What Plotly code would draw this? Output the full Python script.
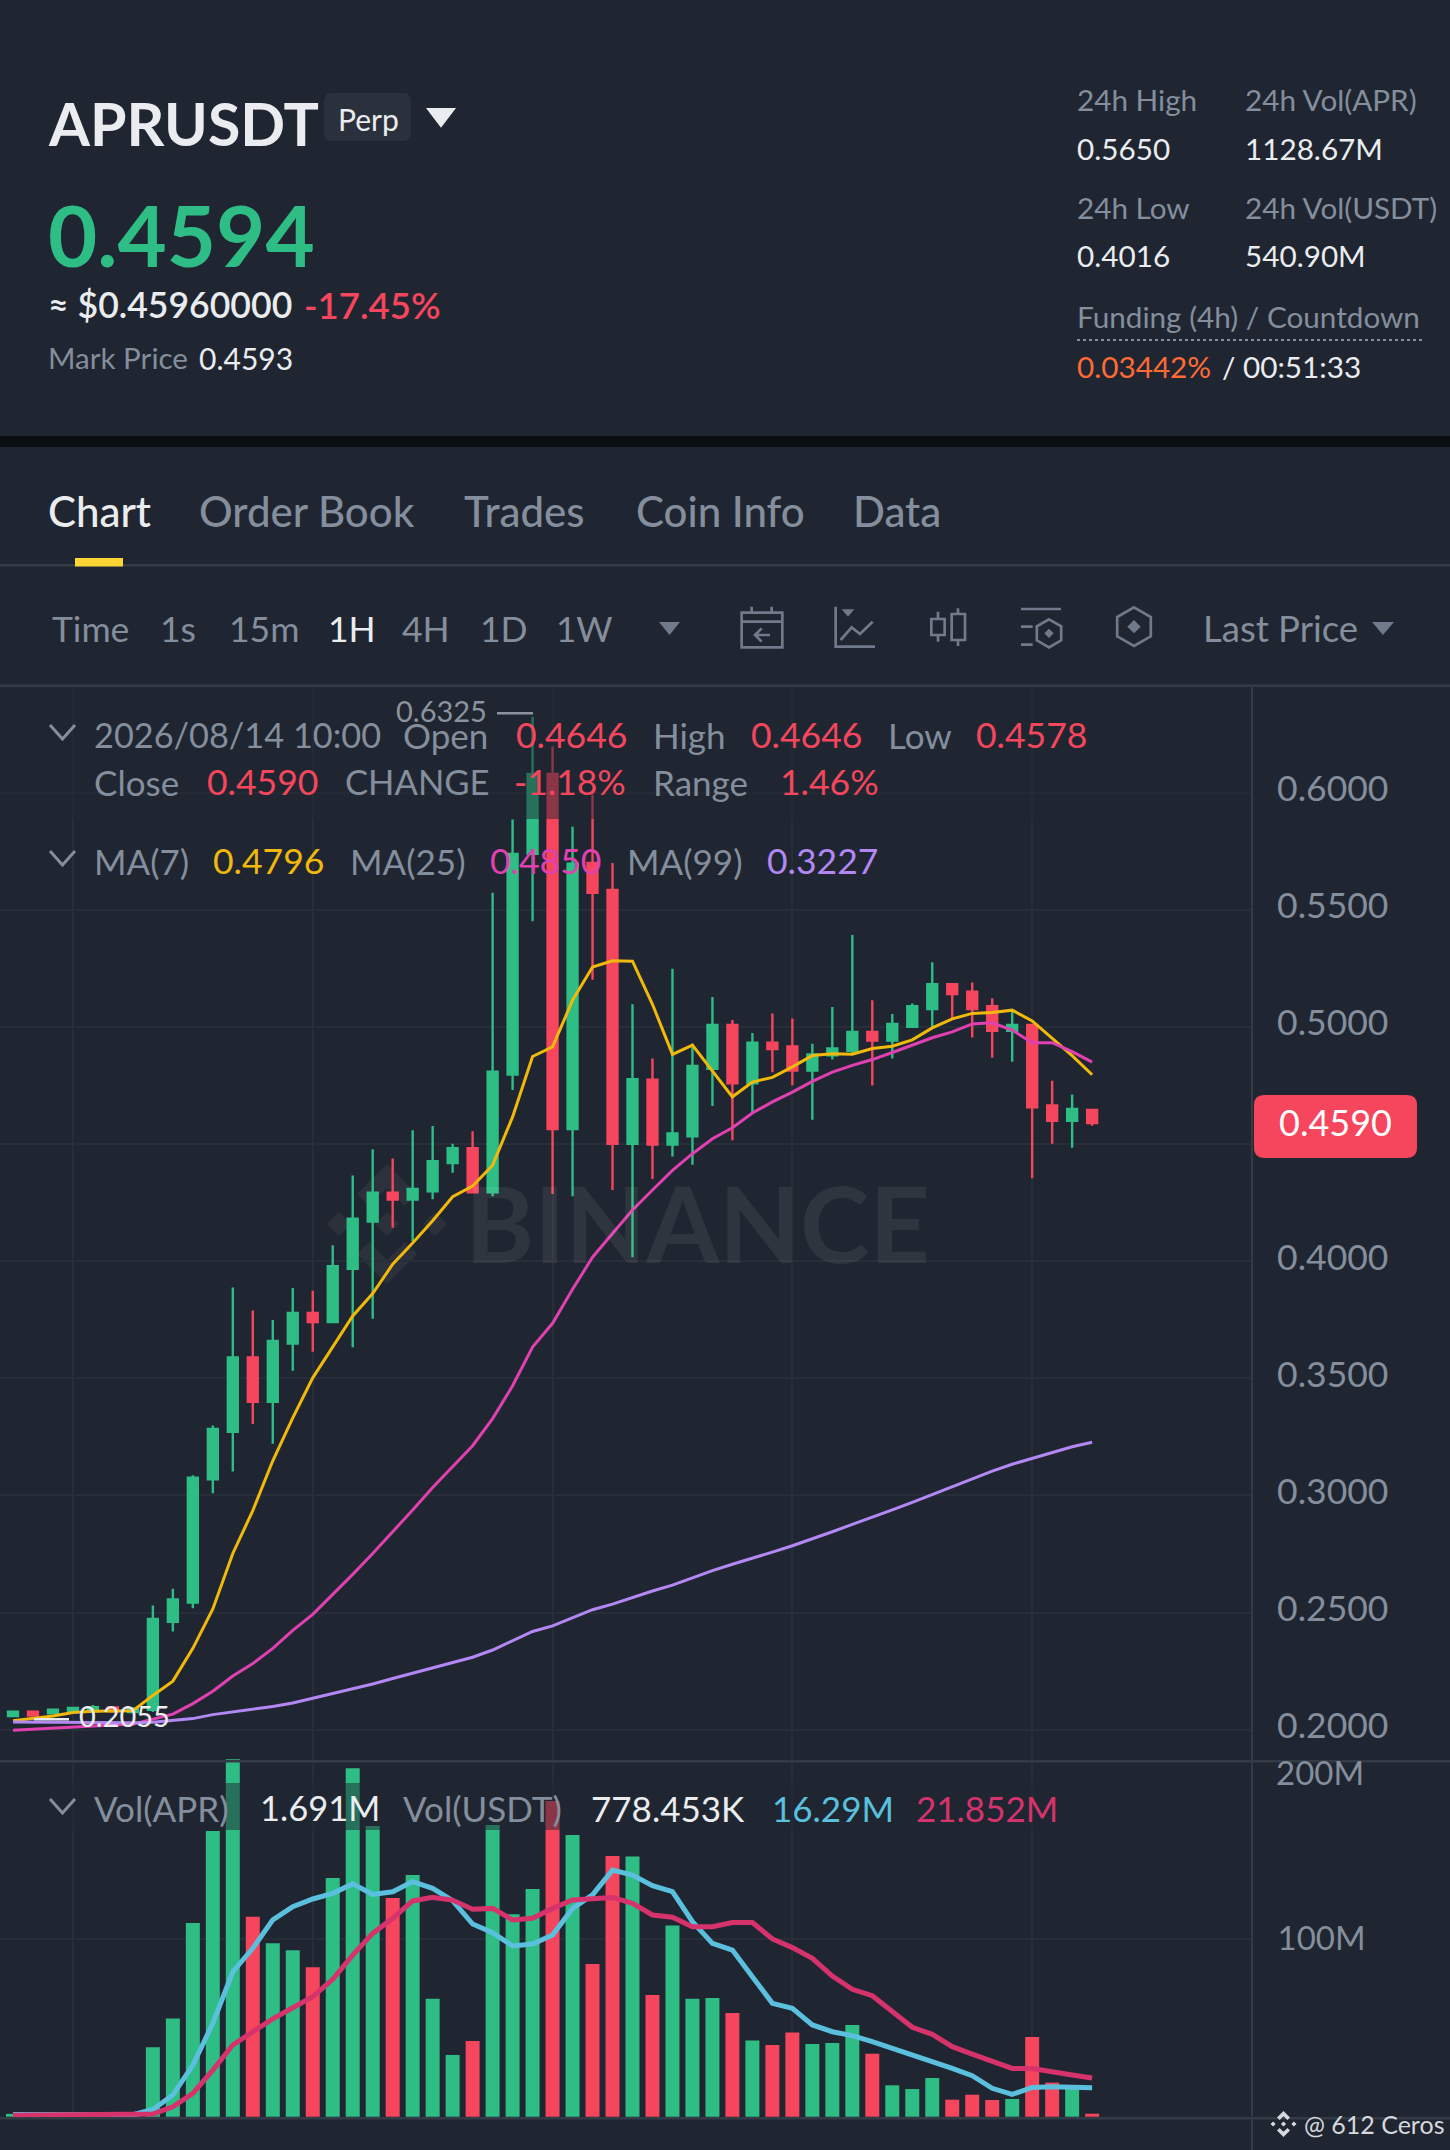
import plotly.graph_objects as go

W = 1450
H = 2150

# 1H candles, last one is 2026/08/14 10:00
opens = [.2058,.2076,.2070,.2078,.2078,.2095,.2075,.2085,.2460,.2543,.3069,.3272,.3589,.3400,.3648,.3779,.3740,.3968,.4169,.4292,.4263,.4299,.4419,.4483,.4294,.4797,.5739,.6080,.4564,.5700,.5585,.4501,.4775,.4498,.4533,.4822,.5009,.4760,.4933,.4917,.4814,.4879,.4898,.4979,.4942,.5001,.5077,.5183,.5151,.5089,.4984,.5009,.4665,.4599,.4646]
closes = [.2076,.2060,.2085,.2093,.2096,.2078,.2090,.2473,.2556,.3076,.3284,.3589,.3400,.3660,.3779,.3740,.3979,.4182,.4292,.4263,.4309,.4427,.4483,.4294,.4809,.5739,.6080,.4564,.5697,.5573,.4501,.4777,.4498,.4545,.4834,.5009,.4760,.4933,.4906,.4814,.4883,.4908,.4979,.4942,.5013,.5089,.5183,.5141,.5077,.4984,.5009,.4657,.4599,.4650,.4590]
highs = [.2080,.2080,.2088,.2097,.2105,.2097,.2094,.2530,.2602,.3086,.3299,.3888,.3789,.3749,.3886,.3874,.4068,.4366,.4478,.4439,.4559,.4577,.4502,.4555,.5573,.5886,.6325,.6198,.5855,.5993,.5700,.5097,.4866,.5249,.4928,.5128,.5030,.4974,.5058,.5036,.4928,.5085,.5393,.5114,.5055,.5100,.5276,.5183,.5190,.5123,.5067,.5009,.4771,.4712,.4646]
lows = [.2055,.2058,.2068,.2075,.2070,.2072,.2072,.2075,.2419,.2518,.3009,.3102,.3305,.3221,.3532,.3613,.3740,.3633,.3754,.4143,.4086,.4265,.4378,.4294,.4277,.4731,.5452,.4287,.4277,.5202,.4304,.4017,.4351,.4447,.4412,.4663,.4516,.4633,.4807,.4751,.4604,.4861,.4886,.4750,.4866,.5001,.4999,.5038,.4955,.4869,.4852,.4354,.4501,.4484,.4578]

ma7 = [.2038,.2048,.2058,.2073,.2078,.2079,.2081,.2146,.2207,.2347,.2515,.2752,.2935,.3148,.3331,.3502,.3636,.3766,.3862,.3987,.4078,.4173,.4275,.4321,.4410,.4616,.4874,.4915,.5114,.5256,.5283,.5281,.5097,.4883,.4923,.4814,.4702,.4765,.4785,.4830,.4878,.4886,.4884,.4908,.4918,.4945,.4996,.5035,.5058,.5062,.5072,.5026,.4954,.4878,.4796]
ma25 = [.1997,.2002,.2007,.2012,.2016,.2020,.2023,.2043,.2066,.2111,.2164,.2229,.2282,.2347,.2424,.2492,.2576,.2663,.2752,.2843,.2938,.3034,.3125,.3212,.3328,.3468,.3633,.3735,.3880,.4017,.4118,.4219,.4304,.4388,.4459,.4523,.4570,.4633,.4680,.4722,.4768,.4807,.4836,.4861,.4891,.4923,.4954,.4979,.5013,.5018,.4987,.4933,.4933,.4895,.4850]
ma99 = [.2032,.2031,.2030,.2029,.2028,.2028,.2029,.2031,.2040,.2047,.2064,.2075,.2085,.2099,.2114,.2134,.2153,.2172,.2195,.2218,.2241,.2264,.2287,.2309,.2340,.2378,.2419,.2443,.2477,.2512,.2536,.2565,.2592,.2617,.2648,.2679,.2706,.2731,.2758,.2785,.2814,.2845,.2876,.2906,.2938,.2970,.3003,.3039,.3072,.3104,.3133,.3158,.3184,.3208,.3227]

# volume in millions
volumes = [1.6,1.4,1.6,1.4,1.4,1.3,1.2,39.1,55.4,109.2,161.0,201.4,112.7,97.7,93.8,84.2,134.5,196.4,163.8,123.3,136.2,66.5,34.8,42.7,164.4,114.1,128.3,177.9,158.8,86.1,146.9,146.7,68.6,107.7,66.5,66.9,58.4,43.0,40.4,47.4,41.0,41.5,51.7,35.5,17.7,15.6,21.8,9.6,12.4,9.4,10.0,44.9,19.2,16.0,1.69]
vol_ma5 = [1.2,1.2,1.2,1.2,1.2,1.2,1.2,4.1,12.2,29.1,52.6,81.7,94.9,110.9,118.4,122.7,125.9,131.2,125.3,126.8,132.5,128.7,121.8,108.6,103.7,96.2,97.3,102.4,117.4,125.0,139.0,136.2,130.2,126.8,109.9,97.7,93.9,78.9,63.9,61.1,51.7,47.9,45.7,42.3,38.5,34.8,31.6,27.2,23.1,16.0,12.6,16.5,16.9,16.3,16.29]
vol_ma10 = [.8,.8,.8,.8,.8,.8,.8,1.5,5.6,13.2,26.3,40.4,47.9,55.1,61.4,67.6,77.4,91.1,103.3,111.8,121.6,123.6,122.1,116.9,117.4,110.9,111.8,117.4,122.1,122.7,123.6,120.3,113.7,112.4,107.1,107.1,109.4,109.4,100.2,95.3,89.3,79.3,71.8,68.2,59.2,50.4,46.4,39.5,35.3,31.0,27.2,27.2,25.7,23.5,21.852]

price_ticks = [.2, .25, .3, .35, .4, .45, .5, .55, .6]
price_labels = ["0.2000", "0.2500", "0.3000", "0.3500", "0.4000", "", "0.5000", "0.5500", "0.6000"]
vol_ticks = [100]
vol_labels = ["100M"]

candle_no = list(range(len(closes)))

BG = "#1f2631"
GREEN = "#2ebd85"
RED = "#f6465d"
GREY = "#848e9c"
WHITE = "#eaecef"
GRID = "#282e39"
EDGE = "#333b47"
ICON = "#707a8a"
FONT = "Lato"


def px(x, y):
    return x / W, 1 - y / H


def rect(x0, y0, x1, y1, color, layer="above"):
    a, b = px(x0, y0)
    c, d = px(x1, y1)
    return dict(type="rect", xref="paper", yref="paper", x0=a, y0=d, x1=c, y1=b,
                fillcolor=color, line_width=0, layer=layer)


def poly(points, close=False):
    d = ""
    for n, (x, y) in enumerate(points):
        a, b = px(x, y)
        d += ("M" if n == 0 else "L") + f"{a:.5f},{b:.5f} "
    return d + ("Z " if close else "")


def path(d, stroke=None, fill=None, width=2.7, layer="above"):
    s = dict(type="path", xref="paper", yref="paper", path=d, layer=layer)
    s["line"] = dict(color=stroke, width=width) if stroke else dict(width=0)
    if fill:
        s["fillcolor"] = fill
    return s


def rounded(x0, y0, x1, y1, r, color, layer="above"):
    def p(x, y):
        a, b = px(x, y)
        return f"{a:.5f},{b:.5f}"
    d = (f"M{p(x0 + r, y0)} L{p(x1 - r, y0)} Q{p(x1, y0)} {p(x1, y0 + r)} L{p(x1, y1 - r)} Q{p(x1, y1)} {p(x1 - r, y1)} "
         f"L{p(x0 + r, y1)} Q{p(x0, y1)} {p(x0, y1 - r)} L{p(x0, y0 + r)} Q{p(x0, y0)} {p(x0 + r, y0)} Z")
    return path(d, fill=color, layer=layer)


def binance_logo(cx, cy, r, color, layer="above"):
    def pts(lst):
        return [(cx + a * r, cy + b * r) for a, b in lst]
    d = poly(pts([(0, -.2), (.2, 0), (0, .2), (-.2, 0)]), True)
    d += poly(pts([(-.8, -.2), (-.6, 0), (-.8, .2), (-1, 0)]), True)
    d += poly(pts([(.8, -.2), (1, 0), (.8, .2), (.6, 0)]), True)
    d += poly(pts([(0, -1), (.5, -.5), (.3, -.3), (0, -.6), (-.3, -.3), (-.5, -.5)]), True)
    d += poly(pts([(0, 1), (.5, .5), (.3, .3), (0, .6), (-.3, .3), (-.5, .5)]), True)
    return path(d, fill=color, layer=layer)


# toolbar icons were measured on a 3x crop starting at (720, 590)
def ic(points):
    return [(720 + a / 3, 590 + b / 3) for a, b in points]


def hexagon(cx, cy, r):
    return ic([(cx, cy - r), (cx + .87 * r, cy - .5 * r), (cx + .87 * r, cy + .5 * r),
               (cx, cy + r), (cx - .87 * r, cy + .5 * r), (cx - .87 * r, cy - .5 * r)])


def diamond(cx, cy, r):
    return ic([(cx, cy - r), (cx + r, cy), (cx, cy + r), (cx - r, cy)])


shapes = [
    rect(0, 436, W, 447, "#0b0e11"),
    rect(0, 564, W, 566.5, EDGE),
    rect(75, 558, 123, 566.5, "#fcd535"),
    rect(0, 684.5, W, 687, EDGE),
    rect(0, 1760, W, 1762.5, EDGE),
    rect(0, 2117, W, 2119.5, EDGE),
    rect(1251, 686, 1253, H, EDGE),
    # legend rows fade what is behind them
    rect(0, 687, 1251, 819, "rgba(31,38,49,0.5)"),
    rect(0, 1783, 1251, 1830, "rgba(31,38,49,0.5)"),
    rounded(324, 93, 411, 141, 8, "#2a313d", layer="below"),
    path(poly([(428, 109), (454, 109), (441, 126)], True), fill=WHITE, stroke=WHITE, width=2),
    path(poly([(659, 622), (680, 622), (669.5, 635)], True), fill=ICON),
    path(poly([(1372, 622), (1394, 622), (1383, 635)], True), fill=ICON),
    dict(type="line", xref="paper", yref="paper", x0=1077 / W, x1=1422 / W, y0=1 - 340 / H, y1=1 - 340 / H,
         line=dict(color=GREY, width=2, dash="dot")),
    # chevrons in front of the legend rows
    path(poly([(50, 725), (62.5, 739), (75, 725)]), stroke=GREY, width=3),
    path(poly([(50, 851), (62.5, 865), (75, 851)]), stroke=GREY, width=3),
    path(poly([(50, 1799), (62.5, 1813), (75, 1799)]), stroke=GREY, width=3),
    # high and low markers
    rect(497, 712, 533, 714.5, "#8d939e"),
    rect(34, 1718, 69, 1720.5, WHITE),
    # last price tag
    rounded(1254, 1095, 1417, 1158, 10, RED),
    # watermark and footer logos
    binance_logo(387, 1224, 60, "#2c313c", layer="below"),
    binance_logo(1283.5, 2124, 13, "#d5d8dc"),
    # toolbar: calendar
    path(poly(ic([(65, 68), (187, 68), (187, 172), (65, 172)]), True) + poly(ic([(65, 95), (187, 95)]))
         + poly(ic([(95, 50), (95, 68)])) + poly(ic([(155, 50), (155, 68)]))
         + poly(ic([(150, 135), (105, 135)])) + poly(ic([(125, 115), (105, 135), (125, 155)])), stroke=ICON),
    # line chart
    path(poly(ic([(347, 50), (347, 170), (465, 170)])) + poly(ic([(362, 150), (395, 112), (420, 132), (458, 95)])), stroke=ICON),
    path(poly(ic([(365, 58), (403, 58), (384, 80)]), True), fill=ICON),
    # candles
    path(poly(ic([(634, 87), (674, 87), (674, 135), (634, 135)]), True) + poly(ic([(654, 65), (654, 87)]))
         + poly(ic([(654, 135), (654, 155)])) + poly(ic([(695, 72), (735, 72), (735, 150), (695, 150)]), True)
         + poly(ic([(714, 55), (714, 72)])) + poly(ic([(714, 150), (714, 168)])), stroke=ICON),
    # settings and hexagon
    path(poly(ic([(903, 57), (1023, 57)])) + poly(ic([(903, 110), (938, 110)])) + poly(ic([(903, 164), (938, 164)]))
         + poly(hexagon(987, 130, 42), True), stroke=ICON),
    path(poly(diamond(987, 130, 14), True), fill=ICON),
    path(poly(hexagon(1242, 110, 58), True), stroke=ICON),
    path(poly(diamond(1242, 110, 20), True), fill=ICON),
]

texts = [
    (48, 125, "APRUSDT", 59, WHITE, 700),
    (338, 120, "Perp", 30, WHITE, 400),
    (48, 235, "0.4594", 85, GREEN, 700),
    (48, 306, "≈ $0.45960000", 35.6, WHITE, 600),
    (304, 306, "-17.45%", 36.5, RED, 600),
    (48, 359, "Mark Price", 29.6, GREY, 400),
    (199, 359, "0.4593", 30, WHITE, 400),
    (1077, 101, "24h High", 29.7, GREY, 400),
    (1245, 101, "24h Vol(APR)", 29.7, GREY, 400),
    (1077, 150, "0.5650", 29.7, WHITE, 400),
    (1245, 150, "1128.67M", 29.7, WHITE, 400),
    (1077, 209, "24h Low", 29.7, GREY, 400),
    (1245, 209, "24h Vol(USDT)", 29.7, GREY, 400),
    (1077, 257, "0.4016", 29.7, WHITE, 400),
    (1245, 257, "540.90M", 29.7, WHITE, 400),
    (1077, 318, "Funding (4h) / Countdown", 29.7, GREY, 400),
    (1077, 368, "0.03442%", 29.7, "#ff6a35", 400),
    (1222, 368, "/", 29.7, WHITE, 400),
    (1243, 368, "00:51:33", 29.7, WHITE, 400),
    (48, 512, "Chart", 42, WHITE, 500),
    (199, 512, "Order Book", 42, GREY, 500),
    (464, 512, "Trades", 42, GREY, 500),
    (636, 512, "Coin Info", 42, GREY, 500),
    (853, 512, "Data", 42, GREY, 500),
    (52, 630, "Time", 35.5, GREY, 400),
    (160, 630, "1s", 35.5, GREY, 400),
    (229, 630, "15m", 35.5, GREY, 400),
    (328, 630, "1H", 35.5, WHITE, 400),
    (402, 630, "4H", 35.5, GREY, 400),
    (480, 630, "1D", 35.5, GREY, 400),
    (556, 630, "1W", 35, GREY, 400),
    (1203, 630, "Last Price", 36.5, GREY, 400),
    (397, 712, "0.6325", 29, "#8d939e", 400),
    (94, 736, "2026/08/14 10:00", 34.3, GREY, 400),
    (404, 736, "Open", 35, GREY, 400),
    (516, 736, "0.4646", 35.5, RED, 400),
    (653, 736, "High", 35, GREY, 400),
    (751, 736, "0.4646", 35.5, RED, 400),
    (888, 736, "Low", 35, GREY, 400),
    (976, 736, "0.4578", 35.5, RED, 400),
    (94, 783, "Close", 35, GREY, 400),
    (207, 783, "0.4590", 35.5, RED, 400),
    (345, 783, "CHANGE", 34.6, GREY, 400),
    (514, 783, "-1.18%", 35.5, RED, 400),
    (653, 783, "Range", 35, GREY, 400),
    (780, 783, "1.46%", 35.5, RED, 400),
    (94, 862, "MA(7)", 35, GREY, 400),
    (213, 862, "0.4796", 35.5, "#f0b90b", 400),
    (350, 862, "MA(25)", 35, GREY, 400),
    (490, 862, "0.4850", 35.5, "#e040b0", 400),
    (627, 862, "MA(99)", 35, GREY, 400),
    (768, 862, "0.3227", 35.5, "#b388f5", 400),
    (79, 1717, "0.2055", 29, WHITE, 400),
    (94, 1809, "Vol(APR)", 35, GREY, 400),
    (260, 1809, "1.691M", 34.5, WHITE, 400),
    (404, 1809, "Vol(USDT)", 35, GREY, 400),
    (591, 1809, "778.453K", 35, WHITE, 400),
    (772, 1809, "16.29M", 35, "#5bc0de", 400),
    (916, 1809, "21.852M", 35, "#d6336c", 400),
    (1276, 1773, "200M", 33, GREY, 400),
    (1304, 2125, "@ 612 Ceros", 25, "#d5d8dc", 400),
    (465, 1223, "BINANCE", 105, "rgba(255,255,255,0.07)", 700),
]

# annotation boxes carry a little padding, so nudge the anchor
annotations = [
    dict(x=(x - 2.5) / W, y=1 - (y - 1.5) / H, xref="paper", yref="paper", text=t, showarrow=False,
         xanchor="left", yanchor="middle", font=dict(family=FONT, size=s, color=c, weight=w))
    for x, y, t, s, c, w in texts
]
annotations.append(dict(x=1335.5 / W, y=1 - 1122 / H, xref="paper", yref="paper", text="0.4590", showarrow=False,
                        xanchor="center", yanchor="middle", font=dict(family=FONT, size=36, color="#ffffff")))

fig = go.Figure()

fig.add_trace(go.Candlestick(
    x=candle_no, open=opens, high=highs, low=lows, close=closes, name="APRUSDT",
    increasing=dict(line=dict(color=GREEN, width=2.4), fillcolor=GREEN),
    decreasing=dict(line=dict(color=RED, width=2.4), fillcolor=RED),
))
fig.add_trace(go.Scatter(x=candle_no, y=ma7, mode="lines", name="MA(7)", line=dict(color="#f0b90b", width=3)))
fig.add_trace(go.Scatter(x=candle_no, y=ma25, mode="lines", name="MA(25)", line=dict(color="#e040b0", width=3)))
fig.add_trace(go.Scatter(x=candle_no, y=ma99, mode="lines", name="MA(99)", line=dict(color="#b388f5", width=3)))

bar_colors = [GREEN if c >= o else RED for o, c in zip(opens, closes)]
fig.add_trace(go.Bar(x=candle_no, y=volumes, width=0.7, marker=dict(color=bar_colors, line_width=0),
                     name="Vol(APR)", xaxis="x2", yaxis="y2"))
fig.add_trace(go.Scatter(x=candle_no, y=vol_ma5, mode="lines", name="Vol MA5", xaxis="x2", yaxis="y2",
                         line=dict(color="#5bc0de", width=5)))
fig.add_trace(go.Scatter(x=candle_no, y=vol_ma10, mode="lines", name="Vol MA10", xaxis="x2", yaxis="y2",
                         line=dict(color="#d6336c", width=5)))

x_common = dict(range=[-0.65, 61.95], domain=[0, 1251 / W], tick0=3, dtick=12, showticklabels=False,
                showgrid=True, gridcolor=GRID, gridwidth=2, zeroline=False, showline=False, ticks="")
y_common = dict(side="right", tickmode="array", showgrid=True, gridcolor=GRID, gridwidth=2, zeroline=False,
                showline=False, ticks="outside", tickcolor="rgba(0,0,0,0)")

fig.update_layout(
    width=W, height=H,
    margin=dict(l=0, r=0, t=0, b=0),
    paper_bgcolor=BG, plot_bgcolor=BG,
    showlegend=False,
    boxgap=0.29,
    xaxis=dict(x_common, anchor="y", rangeslider=dict(visible=False)),
    xaxis2=dict(x_common, anchor="y2", matches="x"),
    yaxis=dict(y_common, anchor="x", domain=[1 - 1761 / H, 1 - 686 / H], range=[0.1866, 0.6456],
               tickvals=price_ticks, ticktext=price_labels, ticklen=18, ticklabelshift=-4,
               tickfont=dict(family=FONT, size=35.5, color=GREY)),
    yaxis2=dict(y_common, anchor="x2", domain=[1 - 2118 / H, 1 - 1759 / H], range=[-0.73, 201.6],
                tickvals=vol_ticks, ticktext=vol_labels, ticklen=19, ticklabelshift=-1,
                tickfont=dict(family=FONT, size=33, color=GREY)),
    shapes=shapes,
    annotations=annotations,
)

fig.write_html("out.html", config=dict(displayModeBar=False),
               post_script="document.body.style.margin='0';document.body.style.background='#1f2631';")
